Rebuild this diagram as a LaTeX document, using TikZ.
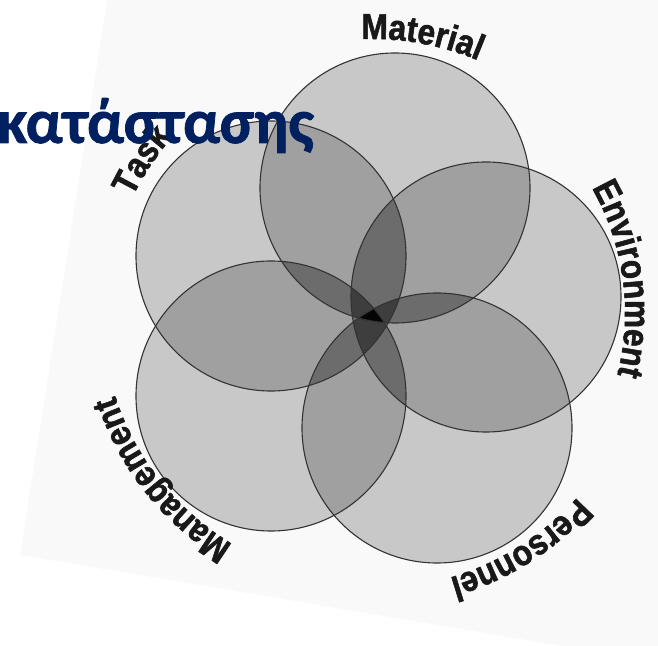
\documentclass[tikz,border=0pt]{standalone}
\usepackage{fontspec}
\newfontfamily\lblfont{Liberation Sans}[FakeStretch=0.88,FakeBold=1.5]
\newfontfamily\titlefont{Carlito}[FakeBold=1.2]
\usetikzlibrary{decorations.text,calc}
\definecolor{g1}{HTML}{C8C8C8}
\definecolor{g2}{HTML}{A0A0A0}
\definecolor{g3}{HTML}{6C6C6C}
\definecolor{g4}{HTML}{3E3E3E}
\definecolor{g5}{HTML}{050505}
\definecolor{ring}{HTML}{333333}
\definecolor{navy}{HTML}{002060}
\definecolor{page}{HTML}{F9F9F9}
\tikzset{
  lbl/.style={decorate, decoration={text along path, text align=center, text color=black!90,
    text={|\lblfont\bfseries\fontsize{36bp}{36bp}\selectfont|#1}}},
  ringline/.style={draw=ring, line width=1.1bp},
}
\begin{document}
\begin{tikzpicture}[x=1bp,y=1bp]
\useasboundingbox (0,0) rectangle (658,646);
\fill[page] (20,91) -- (700,-23) -- (800,746) -- (116,702) -- cycle;
\coordinate (O) at (372,333);
\coordinate (c1) at (395,458);
\coordinate (c2) at (271,390);
\coordinate (c3) at (486,349);
\coordinate (c4) at (271,250);
\coordinate (c5) at (437,218);
\def\R{135}
\foreach \i in {1,...,5} \fill[g1] (c\i) circle[radius=\R];
\foreach \i/\j in {1/2,1/3,1/4,1/5,2/3,2/4,2/5,3/4,3/5,4/5} {
  \begin{scope}
    \clip (c\i) circle[radius=\R]; \clip (c\j) circle[radius=\R];
    \fill[g2] (0,0) rectangle (658,646);
  \end{scope}}
\foreach \i/\j/\k in {1/2/3,1/2/4,1/2/5,1/3/4,1/3/5,1/4/5,2/3/4,2/3/5,2/4/5,3/4/5} {
  \begin{scope}
    \clip (c\i) circle[radius=\R]; \clip (c\j) circle[radius=\R]; \clip (c\k) circle[radius=\R];
    \fill[g3] (0,0) rectangle (658,646);
  \end{scope}}
\foreach \i/\j/\k/\l in {1/2/3/4,1/2/3/5,1/2/4/5,1/3/4/5,2/3/4/5} {
  \begin{scope}
    \clip (c\i) circle[radius=\R]; \clip (c\j) circle[radius=\R]; \clip (c\k) circle[radius=\R]; \clip (c\l) circle[radius=\R];
    \fill[g4] (0,0) rectangle (658,646);
  \end{scope}}
\begin{scope}
  \clip (c1) circle[radius=\R]; \clip (c2) circle[radius=\R]; \clip (c3) circle[radius=\R]; \clip (c4) circle[radius=\R]; \clip (c5) circle[radius=\R];
  \fill[g5] (0,0) rectangle (658,646);
\end{scope}
\foreach \i in {1,...,5} \draw[ringline] (c\i) circle[radius=\R];
\path[lbl=Material] ($(O)+(129.7:274)$) arc[start angle=129.7, end angle=29.7, radius=274];
\path[lbl=Task] ($(O)+(196.4:266)$) arc[start angle=196.4, end angle=96.4, radius=266];
\path[lbl=Environment] ($(O)+(57.75:253)$) arc[start angle=57.75, end angle=-42.25, radius=253];
\path[lbl=Management] ($(O)+(268.4:270)$) arc[start angle=268.4, end angle=168.4, radius=270];
\path[lbl=Personnel] ($(O)+(-7.8:276)$) arc[start angle=-7.8, end angle=-107.8, radius=276];
\node[anchor=base west, inner sep=0, text=navy, font=\titlefont\bfseries\fontsize{63bp}{63bp}\selectfont] (title) at (-3,503) {κατάστασης};
\end{tikzpicture}
\end{document}
